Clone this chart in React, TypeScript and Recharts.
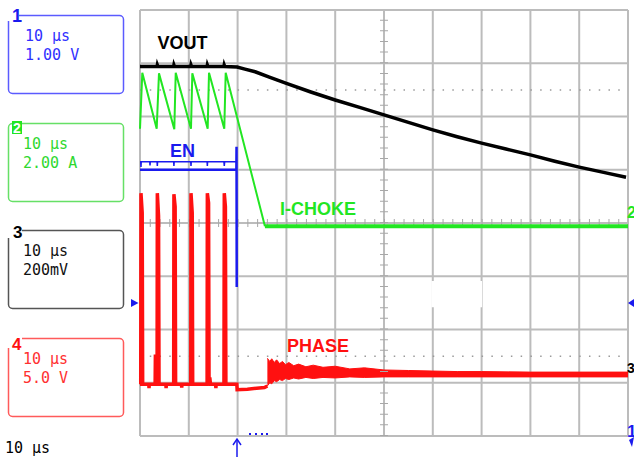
import {
  ComposedChart, Line, Area, XAxis, YAxis, CartesianGrid, ReferenceLine, ReferenceArea,
} from "recharts";

// time in µs (10 µs/div), level in screen divisions (0 = centre line)
const xTicks = [0, 10, 20, 30, 40, 50, 60, 70, 80, 90, 100];
const yTicks = [-4, -3, -2, -1, 0, 1, 2, 3, 4];
const cursorLevels = [2.5, -2.5];

const channelIds = ["1", "2", "3", "4"];
const channelTimebase = ["10 μs", "10 μs", "10 μs", "10 μs"];
const channelScales = ["1.00 V", "2.00 A", "200mV", "5.0 V"];
const traceNames = ["VOUT", "EN", "I-CHOKE", "PHASE"];
const bottomTimebase = "10 μs";

const voutTrace = [
  { t: 0, v: 2.94 }, { t: 3.5, v: 2.94 }, { t: 3.55, v: 2.965 }, { t: 3.65, v: 2.94 },
  { t: 6.9, v: 2.94 }, { t: 6.95, v: 2.965 }, { t: 7.05, v: 2.94 },
  { t: 10.4, v: 2.94 }, { t: 10.45, v: 2.965 }, { t: 10.55, v: 2.94 },
  { t: 13.75, v: 2.94 }, { t: 13.8, v: 2.965 }, { t: 13.9, v: 2.94 },
  { t: 17.2, v: 2.94 }, { t: 17.25, v: 2.965 }, { t: 17.35, v: 2.94 },
  { t: 19.9, v: 2.93 }, { t: 21.5, v: 2.89 }, { t: 23.6, v: 2.84 }, { t: 26.5, v: 2.74 },
  { t: 30, v: 2.62 }, { t: 35, v: 2.46 }, { t: 40, v: 2.31 }, { t: 45, v: 2.17 },
  { t: 50, v: 2.03 }, { t: 55, v: 1.89 }, { t: 60, v: 1.75 }, { t: 65, v: 1.62 },
  { t: 70, v: 1.5 }, { t: 75, v: 1.39 }, { t: 80, v: 1.28 }, { t: 85, v: 1.16 },
  { t: 90, v: 1.05 }, { t: 95, v: 0.95 }, { t: 99.6, v: 0.86 },
];

const chokeRamp = [
  { t: 0, v: 1.77 }, { t: 0.47, v: 2.82 }, { t: 3.42, v: 1.77 }, { t: 3.89, v: 2.81 },
  { t: 7.03, v: 1.76 }, { t: 7.32, v: 2.82 }, { t: 10.45, v: 1.77 }, { t: 10.72, v: 2.81 },
  { t: 13.87, v: 1.77 }, { t: 14.14, v: 2.82 }, { t: 17.27, v: 1.77 }, { t: 17.56, v: 2.82 },
  { t: 25.6, v: -0.06 },
];

const chokeFloor = [
  { t: 25.6, v: -0.06 }, { t: 50, v: -0.06 }, { t: 100, v: -0.06 },
];

const enTrace = [
  { t: 0, v: 1.0 }, { t: 19.75, v: 1.0 }, { t: 19.78, v: 1.43 }, { t: 19.82, v: -1.2 },
];

const enUpper = [
  { t: 0, v: 1.15 }, { t: 0.15, v: 1.15 }, { t: 0.2, v: 1.05 }, { t: 0.25, v: 1.15 },
  { t: 2.0, v: 1.15 }, { t: 2.05, v: 1.08 }, { t: 2.1, v: 1.15 },
  { t: 3.5, v: 1.15 }, { t: 3.55, v: 1.07 }, { t: 3.6, v: 1.15 },
  { t: 6.9, v: 1.15 }, { t: 6.95, v: 1.07 }, { t: 7.0, v: 1.15 },
  { t: 10.4, v: 1.15 }, { t: 10.45, v: 1.07 }, { t: 10.5, v: 1.15 },
  { t: 13.75, v: 1.15 }, { t: 13.8, v: 1.07 }, { t: 13.85, v: 1.15 },
  { t: 17.2, v: 1.15 }, { t: 17.27, v: 1.07 }, { t: 17.35, v: 1.15 },
  { t: 19.75, v: 1.15 },
];

const phaseTrace = [
  { t: 0, v: -3.03 }, { t: 0.15, v: -3.03 }, { t: 0.2, v: 0.56 }, { t: 0.45, v: 0.19 }, { t: 0.55, v: -3.03 },
  { t: 1.8, v: -3.03 }, { t: 1.85, v: -3.1 }, { t: 1.9, v: -3.03 },
  { t: 3.1, v: -3.03 }, { t: 3.15, v: -2.5 }, { t: 3.3, v: -2.5 }, { t: 3.35, v: -3.03 },
  { t: 3.5, v: -3.03 }, { t: 3.55, v: 0.56 }, { t: 3.8, v: 0.13 }, { t: 3.9, v: -3.03 },
  { t: 5.3, v: -3.03 }, { t: 5.35, v: -3.1 }, { t: 5.4, v: -3.03 },
  { t: 6.9, v: -3.03 }, { t: 6.95, v: 0.54 }, { t: 7.2, v: 0.31 }, { t: 7.3, v: -3.03 },
  { t: 8.5, v: -3.03 }, { t: 8.55, v: -3.09 }, { t: 8.6, v: -3.03 },
  { t: 10.4, v: -3.03 }, { t: 10.45, v: 0.56 }, { t: 10.7, v: 0.19 }, { t: 10.8, v: -3.03 },
  { t: 13.75, v: -3.03 }, { t: 13.8, v: 0.56 }, { t: 14.05, v: 0.38 }, { t: 14.15, v: -3.03 },
  { t: 14.3, v: -2.9 }, { t: 14.45, v: -3.03 },
  { t: 15.5, v: -3.03 }, { t: 15.55, v: -3.1 }, { t: 15.6, v: -3.03 },
  { t: 17.2, v: -3.03 }, { t: 17.27, v: 0.56 }, { t: 17.5, v: 0.31 }, { t: 17.6, v: -3.03 },
  { t: 19.85, v: -3.03 }, { t: 19.9, v: -3.13 }, { t: 22, v: -3.12 }, { t: 25.5, v: -3.09 },
  { t: 26.1, v: -3.06 },
];

// ringing envelope after switch-off: [low, high]
const phaseBand = [
  { t: 26.1, band: [-3.06, -2.54] }, { t: 26.6, band: [-3.0, -2.6] }, { t: 27, band: [-3.02, -2.55] },
  { t: 27.5, band: [-2.96, -2.62] }, { t: 28, band: [-2.98, -2.57] }, { t: 28.6, band: [-2.94, -2.64] },
  { t: 29.2, band: [-2.96, -2.6] }, { t: 29.8, band: [-2.92, -2.66] }, { t: 30.5, band: [-2.94, -2.62] },
  { t: 31.5, band: [-2.91, -2.68] }, { t: 32.5, band: [-2.93, -2.65] }, { t: 34, band: [-2.9, -2.7] },
  { t: 35.5, band: [-2.92, -2.67] }, { t: 37.5, band: [-2.9, -2.71] }, { t: 40, band: [-2.91, -2.69] },
  { t: 43, band: [-2.89, -2.74] }, { t: 46, band: [-2.9, -2.72] }, { t: 50, band: [-2.89, -2.76] },
  { t: 55, band: [-2.89, -2.77] }, { t: 60, band: [-2.89, -2.78] }, { t: 65, band: [-2.89, -2.79] },
  { t: 70, band: [-2.89, -2.79] }, { t: 80, band: [-2.89, -2.8] }, { t: 90, band: [-2.89, -2.8] },
  { t: 100, band: [-2.89, -2.8] },
];

const BLUE = "#1a1aee";
const GREEN = "#22e622";
const RED = "#ff1010";
const GRID = "#bcbcbc";
const MONO = "'DejaVu Sans Mono', monospace";
const SANS = "'Liberation Sans', Arial, sans-serif";

const boxes = [
  { top: 15, stroke: "#5b5bff", text: "#3030ff" },
  { top: 123, stroke: "#66e066", text: "#2fd82f" },
  { top: 230, stroke: "#555555", text: "#111111" },
  { top: 338, stroke: "#ff5a5a", text: "#ff3030" },
];

function Overlay() {
  return (
    <svg width={634} height={457} style={{ position: "absolute", left: 0, top: 0, pointerEvents: "none" }}>
      {boxes.map((b, i) => (
        <g key={i}>
          <rect x={8.5} y={b.top + 0.5} width={115} height={78} rx={4} fill="none" stroke={b.stroke} strokeWidth={1.5} />
          <text x={i === 0 ? 25 : 23} y={b.top + 26} fontFamily={MONO} fontSize={15} fill={b.text}>{channelTimebase[i]}</text>
          <text x={i === 0 ? 25 : 23} y={b.top + 45} fontFamily={MONO} fontSize={15} fill={b.text}>{channelScales[i]}</text>
        </g>
      ))}
      {/* channel numbers on box corners */}
      <rect x={7} y={8} width={12} height={13} fill="#fff" />
      <text x={12} y={22} fontFamily={SANS} fontWeight="bold" fontSize={18} fill={BLUE}>{channelIds[0]}</text>
      <rect x={12} y={121} width={10} height={13} fill={GREEN} />
      <text x={17} y={133} textAnchor="middle" fontFamily={SANS} fontWeight="bold" fontSize={14} fill="#fff">{channelIds[1]}</text>
      <rect x={7} y={225} width={15} height={13} fill="#fff" />
      <text x={13} y={238} fontFamily={SANS} fontWeight="bold" fontSize={17} fill="#000">{channelIds[2]}</text>
      <rect x={7} y={334} width={15} height={14} fill="#fff" />
      <text x={12} y={350} fontFamily={SANS} fontWeight="bold" fontSize={17} fill={RED}>{channelIds[3]}</text>
      <text x={5} y={453} fontFamily={MONO} fontSize={15} fill="#000">{bottomTimebase}</text>

      {/* trace labels */}
      <text x={157.5} y={48.5} fontFamily={SANS} fontWeight="bold" fontSize={18} fill="#000">{traceNames[0]}</text>
      <text x={170} y={156.5} fontFamily={SANS} fontWeight="bold" fontSize={18} fill={BLUE}>{traceNames[1]}</text>
      <text x={280} y={215} fontFamily={SANS} fontWeight="bold" fontSize={18} fill={GREEN}>{traceNames[2]}</text>
      <text x={287} y={351.5} fontFamily={SANS} fontWeight="bold" fontSize={18} fill={RED}>{traceNames[3]}</text>

      {/* ground / trigger markers */}
      <polygon points="131,299 138.5,303 131,307" fill={BLUE} />
      <polygon points="634,299 628,303 634,307" fill={BLUE} />
      <text x={627} y={218} fontFamily={SANS} fontWeight="bold" fontSize={16} fill={GREEN}>2</text>
      <text x={627} y={373} fontFamily={SANS} fontWeight="bold" fontSize={14} fill="#000">3</text>
      <text x={627} y={437} fontFamily={SANS} fontWeight="bold" fontSize={17} fill={BLUE}>1</text>
      <polygon points="629,440 634,437 632,447" fill={BLUE} />
      <line x1={237} y1={439} x2={237} y2={457} stroke={BLUE} strokeWidth={1.5} />
      <polyline points="233,445 237,439 241,445" fill="none" stroke={BLUE} strokeWidth={1.5} />
      {[249, 255, 261, 266].map((x) => (
        <rect key={x} x={x} y={433} width={2} height={2} fill={BLUE} />
      ))}
    </svg>
  );
}

export default function App() {
  return (
    <div style={{ position: "absolute", left: 0, top: 0, width: 634, height: 457, background: "#fff", overflow: "hidden" }}>
      <ComposedChart width={634} height={457} margin={{ top: 10, right: 6, bottom: 21, left: 140 }}>
        <XAxis dataKey="t" type="number" domain={[0, 100]} ticks={xTicks} hide />
        <YAxis type="number" domain={[-4, 4]} ticks={yTicks} hide />
        <CartesianGrid stroke={GRID} strokeWidth={2} />
        <ReferenceArea x1={59.7} x2={70.1} y1={-1.58} y2={-1.09} fill="#fff" fillOpacity={1} stroke="none" />
        <ReferenceLine y={0} stroke="#a8a8a8" strokeWidth={8} strokeDasharray="1 8.76" />
        <ReferenceLine x={50} stroke="#a8a8a8" strokeWidth={8} strokeDasharray="1 9.65" />
        {cursorLevels.map((lv) => (
          <ReferenceLine key={lv} y={lv} stroke="#9a9a9a" strokeWidth={1.5} strokeDasharray="1.5 8.26" />
        ))}
        <Area data={phaseBand} dataKey="band" type="linear" stroke={RED} strokeWidth={1} fill={RED} fillOpacity={1} isAnimationActive={false} />
        <Line data={phaseTrace} dataKey="v" type="linear" stroke={RED} strokeWidth={3.5} dot={false} isAnimationActive={false} />
        <Line data={enUpper} dataKey="v" type="linear" stroke={BLUE} strokeWidth={1.5} dot={false} isAnimationActive={false} />
        <Line data={enTrace} dataKey="v" type="linear" stroke={BLUE} strokeWidth={2.5} dot={false} isAnimationActive={false} />
        <Line data={chokeFloor} dataKey="v" type="linear" stroke={GREEN} strokeWidth={4} dot={false} isAnimationActive={false} />
        <Line data={chokeRamp} dataKey="v" type="linear" stroke={GREEN} strokeWidth={2} dot={false} isAnimationActive={false} />
        <Line data={voutTrace} dataKey="v" type="linear" stroke="#000" strokeWidth={3.5} dot={false} isAnimationActive={false} />
      </ComposedChart>
      <Overlay />
    </div>
  );
}
